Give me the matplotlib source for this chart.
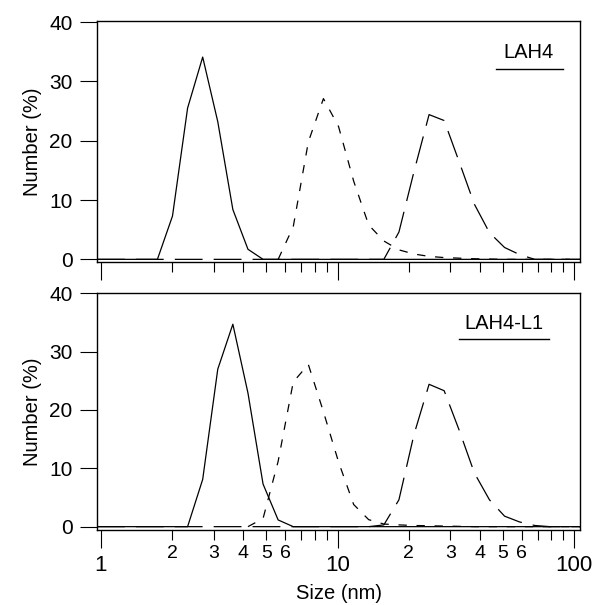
import numpy as np
import matplotlib
matplotlib.use('Agg')
import matplotlib.pyplot as plt
from matplotlib.ticker import FixedLocator, FixedFormatter, NullFormatter

plt.rcParams['font.family'] = ['Liberation Sans', 'DejaVu Sans']
plt.rcParams['lines.scale_dashes'] = False

# size bins (nm)
sizes = [0.9649, 1.117, 1.294, 1.499, 1.736, 2.010, 2.328, 2.696, 3.122, 3.615,
         4.187, 4.849, 5.615, 6.503, 7.531, 8.721, 10.10, 11.70, 13.54, 15.69,
         18.17, 21.04, 24.36, 28.21, 32.67, 37.84, 43.82, 50.75, 58.77, 68.06,
         78.82, 91.28, 105.7]

nan = np.nan

# LAH4 panel, number (%)
lah4_solid = [0, 0, 0, 0, 0, 7.3, 25.5, 34.1, 23.2, 8.4,
              1.7, 0, 0, 0, 0, 0, 0, 0, 0, 0,
              0, 0, 0, 0, 0, 0, 0, 0, 0, 0,
              0, 0, 0]
lah4_short = [nan, nan, nan, nan, nan, nan, nan, nan, nan, nan,
              nan, nan, 0, 5.5, 19.8, 27.1, 22.4, 13.2, 5.8, 3.1,
              1.6, 0.9, 0.5, 0.3, 0.2, 0.1, 0.05, 0, 0, 0,
              0, 0, 0]
lah4_long = [0, 0, 0, 0, 0, 0, 0, 0, 0, 0,
             0, 0, 0, 0, 0, 0, 0, 0, 0, 0,
             4.6, 14.8, 24.4, 23.4, 16.4, 9.3, 4.5, 2.0, 0.8, 0,
             0, 0, 0]

# LAH4-L1 panel, number (%)
l1_solid = [0, 0, 0, 0, 0, 0, 0, 8.1, 27.0, 34.7,
            22.9, 7.3, 1.15, 0, 0, 0, 0, 0, 0, 0,
            0, 0, 0, 0, 0, 0, 0, 0, 0, 0,
            0, 0, 0]
l1_short = [nan, nan, nan, nan, nan, nan, nan, nan, nan, nan,
            0, 1.4, 11.2, 24.8, 27.8, 19.7, 11.1, 3.8, 1.2, 0.45,
            0.3, 0.2, 0.15, 0.1, 0.05, 0, 0, 0, 0, 0,
            0, 0, 0]
l1_long = [0, 0, 0, 0, 0, 0, 0, 0, 0, 0,
           0, 0, 0, 0, 0, 0, 0, 0, 0, 0.3,
           4.6, 15.8, 24.4, 23.3, 16.5, 9.2, 4.6, 1.8, 0.8, 0.2,
           0, 0, 0]

panel_names = ['LAH4', 'LAH4-L1']
major_ticks = [1, 10, 100]
major_labels = ['1', '10', '100']
minor_ticks = [2, 3, 4, 5, 6, 7, 8, 9, 20, 30, 40, 50, 60, 70, 80, 90]
minor_labels = ['2', '3', '4', '5', '6', '', '', '', '2', '3', '4', '5', '6', '', '', '']
y_ticks = [0, 10, 20, 30, 40]

fig = plt.figure(figsize=(5.93, 6.05), dpi=100)
ax1 = fig.add_axes([0.1636, 0.5669, 0.8145, 0.3983])
ax2 = fig.add_axes([0.1636, 0.1240, 0.8145, 0.3917])

panels = [(ax1, lah4_solid, lah4_short, lah4_long, (-0.45, 40.17), (0.826, 0.965, 0.801, 0.894, 0.871)),
          (ax2, l1_solid, l1_short, l1_long, (-0.57, 40.05), (0.749, 0.936, 0.806, 0.843, 0.873))]

for i, (ax, s, d, l, ylim, leg) in enumerate(panels):
    ax.plot(sizes, s, color='k', lw=0.9)
    ax.plot(sizes, d, color='k', lw=0.9, dashes=(6, 7))
    ax.plot(sizes, l, color='k', lw=0.9, dashes=(20, 8))
    ax.set_xscale('log')
    ax.set_xlim(0.9649, 105.7)
    ax.set_ylim(*ylim)
    ax.xaxis.set_major_locator(FixedLocator(major_ticks))
    ax.xaxis.set_minor_locator(FixedLocator(minor_ticks))
    ax.yaxis.set_major_locator(FixedLocator(y_ticks))
    ax.tick_params(axis='x', which='major', direction='out', length=13, width=0.8, pad=5, labelsize=16)
    ax.tick_params(axis='x', which='minor', direction='out', length=7, width=0.8, pad=4, labelsize=14)
    ax.tick_params(axis='y', direction='out', length=12.5, width=0.8, pad=5, labelsize=15)
    for sp in ax.spines.values():
        sp.set_linewidth(1.0)
    ax.set_ylabel('Number (%)', fontsize=14.5, labelpad=5)
    x0, x1, yl, xt, yt = leg
    ax.plot([x0, x1], [yl, yl], transform=ax.transAxes, color='k', lw=1.0)
    ax.text(xt, yt, panel_names[i], transform=ax.transAxes, ha='center', va='center', fontsize=14.5)

ax1.xaxis.set_major_formatter(NullFormatter())
ax1.xaxis.set_minor_formatter(NullFormatter())
ax2.xaxis.set_major_formatter(FixedFormatter(major_labels))
ax2.xaxis.set_minor_formatter(FixedFormatter(minor_labels))
ax2.set_xlabel('Size (nm)', fontsize=14.5, labelpad=6)

fig.savefig('out.png', dpi=100)
